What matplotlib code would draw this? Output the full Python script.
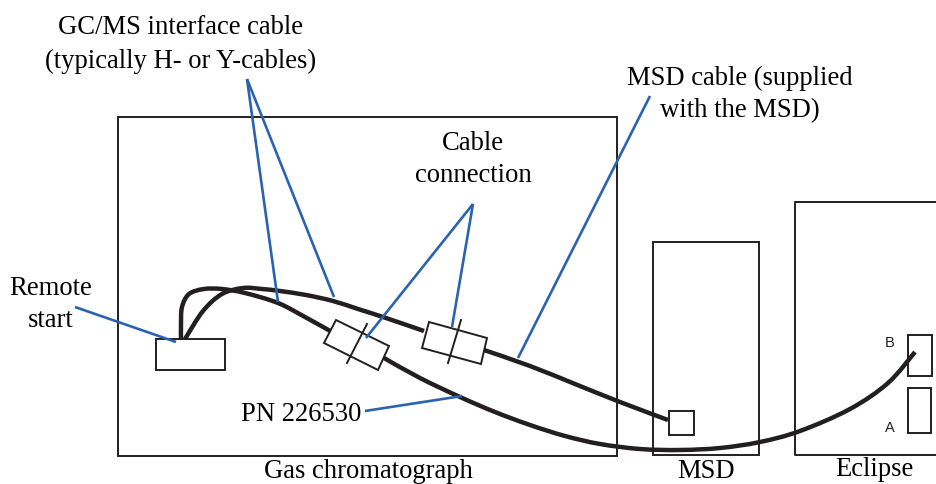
import matplotlib
matplotlib.use('Agg')
import matplotlib.pyplot as plt
from matplotlib.path import Path
from matplotlib.patches import PathPatch, Polygon, Rectangle

INK = '#231f20'
BLUE = '#2b63ae'

# boxes: left, top, right, bottom (image pixels)
boxes = [(118, 118, 617, 457), (653, 243, 759, 456), (156, 340, 225, 371),
         (669, 412, 694, 436), (908, 336, 932, 377), (908, 389, 931, 434)]
eclipse_x = [937, 795, 795, 937]
eclipse_y = [203, 203, 456, 456]

# cable knots
cable_lower_a = [(181, 341), (181, 325), (182, 308), (189, 295), (204, 290), (222, 290), (245, 294),
                 (278, 304), (305, 318), (332, 333)]
cable_lower_b = [(384, 359), (420, 379), (460, 398), (495, 413), (530, 426), (565, 437), (600, 445),
                 (640, 450), (680, 451), (720, 449), (760, 443), (800, 432), (850, 410), (888, 384), (915, 353)]
cable_upper_a = [(185, 340), (203, 312), (222, 295), (243, 289), (262, 290), (280, 292), (306, 296),
                 (333, 302), (358, 310), (383, 318), (424, 332)]
cable_upper_b = [(484, 351), (530, 367), (575, 385), (620, 403), (668, 421)]

connector_1 = [(336, 321), (389, 347), (378, 371), (324, 344)]
connector_2 = [(429, 323), (487, 339), (481, 365), (422, 349)]
slashes = [((367, 325), (347, 364)), ((461, 321), (448, 364))]

# blue leader lines
leaders = [((247, 80), (278, 303)), ((247, 80), (334, 298)), ((473, 205), (366, 339)),
           ((473, 205), (452, 328)), ((650, 97), (518, 359)), ((75, 308), (176, 343)),
           ((365, 412), (462, 397))]

labels = [('GC/MS interface cable', 181, 28), ('(typically H- or Y-cables)', 181, 61),
          ('MSD cable (supplied', 740, 78), ('with the MSD)', 740, 111),
          ('Cable', 473, 144), ('connection', 473, 176), ('Remote', 51, 289), ('start', 51, 321),
          ('PN 226530', 301, 415), ('Gas chromatograph', 368, 472), ('MSD', 706, 472), ('Eclipse', 874, 470)]
port_labels = [('B', 890, 343), ('A', 890, 428)]


def smooth_path(knots):
    # catmull-rom knots turned into bezier segments
    verts = [knots[0]]
    codes = [Path.MOVETO]
    for i in range(len(knots) - 1):
        p0 = knots[max(i - 1, 0)]
        p1 = knots[i]
        p2 = knots[i + 1]
        p3 = knots[min(i + 2, len(knots) - 1)]
        c1 = (p1[0] + (p2[0] - p0[0]) / 6, p1[1] + (p2[1] - p0[1]) / 6)
        c2 = (p2[0] - (p3[0] - p1[0]) / 6, p2[1] - (p3[1] - p1[1]) / 6)
        verts += [c1, c2, p2]
        codes += [Path.CURVE4] * 3
    return Path(verts, codes)


fig = plt.figure(figsize=(9.37, 4.85), dpi=100)
ax = fig.add_axes([0, 0, 1, 1])
ax.set_xlim(0, 937)
ax.set_ylim(485, 0)
ax.axis('off')

for left, top, right, bottom in boxes:
    ax.add_patch(Rectangle((left, top), right - left, bottom - top, fill=False, ec=INK, lw=1.4, zorder=2))
ax.plot(eclipse_x, eclipse_y, color=INK, lw=1.4, zorder=2)

for knots in [cable_lower_a, cable_lower_b, cable_upper_a, cable_upper_b]:
    ax.add_patch(PathPatch(smooth_path(knots), fill=False, ec=INK, lw=3.2, capstyle='butt', zorder=3))

for corners in [connector_1, connector_2]:
    ax.add_patch(Polygon(corners, closed=True, fc='white', ec=INK, lw=1.4, zorder=4))
for start, end in slashes:
    ax.plot([start[0], end[0]], [start[1], end[1]], color=INK, lw=1.4, zorder=5)

for start, end in leaders:
    ax.plot([start[0], end[0]], [start[1], end[1]], color=BLUE, lw=1.9, solid_capstyle='butt', zorder=6)

for text, x, y in labels:
    ax.text(x, y, text, family='Liberation Serif', fontsize=19.2, color='black', ha='center', va='center', zorder=7)
for text, x, y in port_labels:
    ax.text(x, y, text, family='Liberation Sans', fontsize=10.5, color=INK, ha='center', va='center', zorder=7)

fig.savefig('out.png', dpi=100)
